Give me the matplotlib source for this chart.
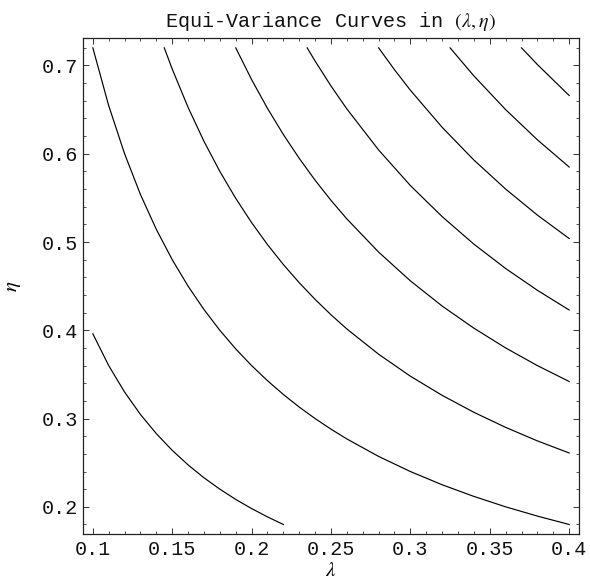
import matplotlib
matplotlib.use("Agg")
import matplotlib.pyplot as plt
from matplotlib.ticker import MultipleLocator

plt.rcParams['font.family'] = ['Liberation Mono', 'DejaVu Sans']
plt.rcParams['mathtext.fontset'] = 'stix'

# equi-variance curves (lambda, eta)
lam1 = [0.10, 0.11, 0.12, 0.13, 0.14, 0.15, 0.16, 0.17, 0.18, 0.19, 0.20, 0.21, 0.22]
eta1 = [0.396, 0.360, 0.330, 0.3046, 0.2829, 0.264, 0.2475, 0.2329, 0.220, 0.2084, 0.198, 0.1886, 0.180]

lam2 = [0.10, 0.11, 0.12, 0.13, 0.14, 0.15, 0.16, 0.17, 0.18, 0.19, 0.20, 0.21, 0.22, 0.23, 0.24, 0.25, 0.26,
        0.28, 0.30, 0.32, 0.34, 0.36, 0.38, 0.40]
eta2 = [0.720, 0.6545, 0.600, 0.5538, 0.5143, 0.480, 0.450, 0.4235, 0.400, 0.3789, 0.360, 0.3429, 0.3273, 0.3130,
        0.300, 0.288, 0.2769, 0.2571, 0.240, 0.225, 0.2118, 0.200, 0.1895, 0.180]

lam3 = [0.145, 0.15, 0.16, 0.17, 0.18, 0.19, 0.20, 0.21, 0.22, 0.23, 0.24, 0.25, 0.26,
        0.28, 0.30, 0.32, 0.34, 0.36, 0.38, 0.40]
eta3 = [0.720, 0.696, 0.6525, 0.6141, 0.580, 0.5495, 0.522, 0.4971, 0.4745, 0.4539, 0.435, 0.4176, 0.4015,
        0.3729, 0.348, 0.3263, 0.3071, 0.290, 0.2747, 0.261]

lam4 = [0.19, 0.20, 0.21, 0.22, 0.23, 0.24, 0.25, 0.26, 0.28, 0.30, 0.32, 0.34, 0.36, 0.38, 0.40]
eta4 = [0.720, 0.684, 0.6514, 0.6218, 0.5948, 0.570, 0.5472, 0.5262, 0.4886, 0.456, 0.4275, 0.4024, 0.380, 0.360, 0.342]

lam5 = [0.235, 0.24, 0.25, 0.26, 0.28, 0.30, 0.32, 0.34, 0.36, 0.38, 0.40]
eta5 = [0.720, 0.705, 0.6768, 0.6508, 0.6043, 0.564, 0.5288, 0.4976, 0.470, 0.4453, 0.423]

lam6 = [0.28, 0.29, 0.30, 0.32, 0.34, 0.36, 0.38, 0.40]
eta6 = [0.720, 0.6952, 0.672, 0.630, 0.5929, 0.560, 0.5305, 0.504]

lam7 = [0.325, 0.34, 0.36, 0.38, 0.40]
eta7 = [0.720, 0.6882, 0.650, 0.6158, 0.585]

lam8 = [0.37, 0.38, 0.40]
eta8 = [0.720, 0.7011, 0.666]

curves = [(lam1, eta1), (lam2, eta2), (lam3, eta3), (lam4, eta4),
          (lam5, eta5), (lam6, eta6), (lam7, eta7), (lam8, eta8)]

fig = plt.figure(figsize=(5.9, 5.84), dpi=100)
ax = fig.add_axes([0.1412, 0.0856, 0.8396, 0.8488])

for lam, eta in curves:
    ax.plot(lam, eta, color='black', lw=0.85)

ax.set_xlim(0.094, 0.406)
ax.set_ylim(0.1692, 0.7308)

ax.xaxis.set_minor_locator(MultipleLocator(0.01))
ax.yaxis.set_minor_locator(MultipleLocator(0.02))
ax.set_xticks([0.1, 0.15, 0.2, 0.25, 0.3, 0.35, 0.4])
ax.set_xticklabels(['0.1', '0.15', '0.2', '0.25', '0.3', '0.35', '0.4'])
ax.set_yticks([0.2, 0.3, 0.4, 0.5, 0.6, 0.7])
ax.set_yticklabels(['0.2', '0.3', '0.4', '0.5', '0.6', '0.7'])

ax.tick_params(which='both', direction='in', top=True, right=True, colors='#333333', labelcolor='#111111')
ax.tick_params(which='major', length=4, width=0.7, labelsize=14.5, pad=4)
ax.tick_params(which='minor', length=2.2, width=0.6)
for s in ax.spines.values():
    s.set_linewidth(0.9)
    s.set_color('#222222')

ax.set_title(r'Equi-Variance Curves in $(\lambda,\eta)$', fontsize=14.5, pad=8, color='#111111')
ax.set_xlabel(r'$\lambda$', fontsize=15, labelpad=2)
ax.set_ylabel(r'$\eta$', fontsize=15, labelpad=13)

fig.savefig('out.png', dpi=100)
